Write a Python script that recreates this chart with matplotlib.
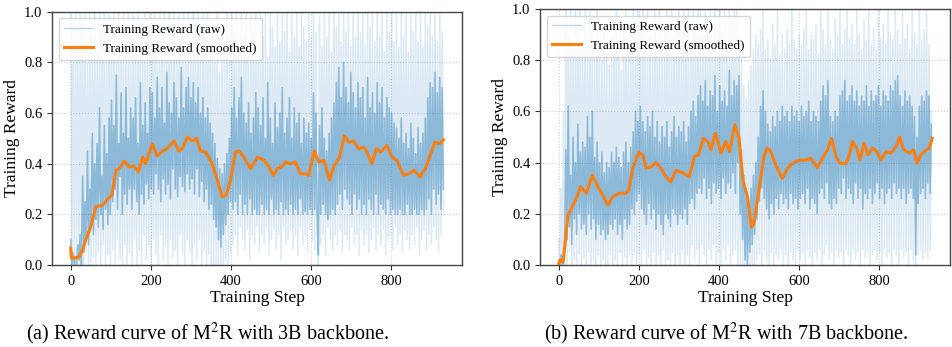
import numpy as np
import matplotlib
matplotlib.use("Agg")
import matplotlib.pyplot as plt

plt.rcParams['font.family'] = ['Liberation Serif', 'DejaVu Serif']
plt.rcParams['mathtext.fontset'] = 'stix'

STEP_STRIDE = 3

# ---------------- Panel (a): 3B backbone ----------------
raw_a = [
    0.10, 0.00, 0.05, 0.00, 0.03, 0.00, 0.08, 0.02, 0.12, 0.00,
    0.35, 0.05, 0.25, 0.10, 0.45, 0.08, 0.30, 0.15, 0.52, 0.12, 0.40,
    0.18, 0.48, 0.15, 0.62, 0.20, 0.35, 0.14, 0.55, 0.22, 0.44, 0.16, 0.58, 0.20,
    0.65, 0.25, 0.55, 0.30, 0.75, 0.22, 0.48, 0.35, 0.68, 0.20, 0.52, 0.28, 0.70, 0.24, 0.50, 0.30, 0.62,
    0.22, 0.58, 0.30, 0.66, 0.25, 0.48, 0.20, 0.72, 0.28, 0.55, 0.24, 0.64, 0.32, 0.52, 0.26, 0.70,
    0.30, 0.68, 0.28, 0.58, 0.36, 0.74, 0.30, 0.62, 0.25, 0.70, 0.34, 0.56, 0.28, 0.76, 0.32, 0.64, 0.26,
    0.60, 0.38, 0.72, 0.30, 0.66, 0.27, 0.58, 0.35, 0.78, 0.31, 0.62, 0.29, 0.70, 0.36, 0.74, 0.30, 0.66,
    0.34, 0.72, 0.28, 0.64, 0.38, 0.70, 0.27, 0.60, 0.33, 0.66, 0.25, 0.58, 0.30, 0.62, 0.22, 0.56,
    0.24, 0.52, 0.18, 0.48, 0.15, 0.42, 0.10, 0.38, 0.07, 0.36, 0.12, 0.40, 0.16, 0.44, 0.20, 0.50, 0.25,
    0.62, 0.22, 0.70, 0.25, 0.58, 0.20, 0.66, 0.28, 0.74, 0.20, 0.60, 0.24, 0.56, 0.20, 0.64, 0.26, 0.52,
    0.20, 0.58, 0.22, 0.68, 0.20,
    0.62, 0.20, 0.55, 0.24, 0.66, 0.20, 0.50, 0.22, 0.72, 0.20, 0.58, 0.26, 0.48, 0.20, 0.64, 0.22, 0.54,
    0.20, 0.60, 0.25, 0.70, 0.20, 0.52, 0.22, 0.58, 0.20, 0.66, 0.24, 0.50, 0.20, 0.62, 0.22, 0.56, 0.20,
    0.60, 0.26, 0.48, 0.20, 0.58, 0.21, 0.52, 0.20, 0.56, 0.22, 0.50,
    0.20, 0.68, 0.22, 0.60, 0.20, 0.04, 0.55, 0.20, 0.62, 0.24, 0.50, 0.20, 0.45, 0.18, 0.52, 0.20, 0.58,
    0.22, 0.64, 0.20,
    0.72, 0.24, 0.78, 0.28, 0.66, 0.22, 0.80, 0.30, 0.70, 0.26, 0.64, 0.24, 0.76, 0.20, 0.68, 0.28, 0.62,
    0.22, 0.72, 0.26,
    0.66, 0.20, 0.70, 0.24, 0.58, 0.20, 0.74, 0.26, 0.62, 0.22, 0.68, 0.20, 0.60, 0.28, 0.72, 0.20, 0.64,
    0.24, 0.70, 0.22, 0.58, 0.20, 0.66, 0.26, 0.62, 0.20, 0.60, 0.22, 0.56, 0.20,
    0.54, 0.20, 0.50, 0.22, 0.58, 0.20, 0.48, 0.20, 0.52, 0.24, 0.46, 0.20, 0.56, 0.20, 0.50, 0.22, 0.44,
    0.20, 0.54, 0.20, 0.48, 0.22, 0.52, 0.20, 0.58,
    0.22, 0.66, 0.26, 0.72, 0.20, 0.70, 0.30, 0.76, 0.24, 0.68, 0.28, 0.74, 0.22, 0.70, 0.30,
]

spread_a = [
    1.00, 0.00, 0.85, 0.00, 1.00, 0.02, 0.90, 0.00, 1.00, 0.00,
    0.95, 0.00, 1.00, 0.05, 0.80, 0.00, 1.00, 0.00, 0.90, 0.03, 1.00,
    0.00, 0.85, 0.05, 1.00, 0.00, 0.92, 0.08, 1.00, 0.00, 0.88, 0.04, 1.00, 0.00,
    0.95, 0.06, 1.00, 0.00, 0.82, 0.10, 1.00, 0.02, 0.90, 0.00, 1.00, 0.08, 0.86, 0.00, 1.00, 0.05, 0.92,
    0.00, 1.00, 0.10, 0.88, 0.00, 1.00, 0.06, 0.94, 0.00, 0.84, 0.12, 1.00, 0.02, 0.90, 0.08, 1.00,
    0.00, 0.96, 0.10, 1.00, 0.04, 0.86, 0.00, 1.00, 0.12, 0.92, 0.02, 1.00, 0.08, 0.88, 0.00, 1.00, 0.10,
    0.94, 0.03, 1.00, 0.06, 0.90, 0.00, 1.00, 0.12, 0.86, 0.04, 1.00, 0.00, 0.92, 0.10, 1.00, 0.05, 0.88,
    0.00, 1.00, 0.08, 0.94, 0.02, 1.00, 0.10, 0.86, 0.00, 1.00, 0.06, 0.90, 0.00, 1.00, 0.04, 0.84,
    0.00, 0.96, 0.00, 0.80, 0.00, 1.00, 0.00, 0.76, 0.00, 0.90, 0.00, 0.82, 0.02, 1.00, 0.00, 0.88, 0.05,
    1.00, 0.08, 0.92, 0.12, 1.00, 0.04, 0.86, 0.15, 1.00, 0.10, 0.90, 0.06, 1.00, 0.14, 0.84, 0.02, 1.00,
    0.12, 0.94, 0.08, 1.00, 0.15,
    0.88, 0.05, 1.00, 0.12, 0.90, 0.08, 1.00, 0.15, 0.82, 0.04, 1.00, 0.10, 0.94, 0.14, 0.86, 0.06, 1.00,
    0.12, 0.88, 0.02, 1.00, 0.15, 0.92, 0.08, 1.00, 0.10, 0.84, 0.14, 1.00, 0.06, 0.90, 0.12, 1.00, 0.04,
    0.86, 0.15, 1.00, 0.08, 0.94, 0.12, 0.88, 0.05, 1.00, 0.14, 0.90,
    0.10, 1.00, 0.06, 0.92, 0.14, 0.00, 1.00, 0.08, 0.86, 0.12, 1.00, 0.04, 0.90, 0.15, 1.00, 0.10, 0.84,
    0.06, 1.00, 0.12,
    0.94, 0.08, 1.00, 0.14, 0.88, 0.05, 1.00, 0.12, 0.92, 0.10, 1.00, 0.06, 0.86, 0.15, 1.00, 0.08, 0.90,
    0.12, 1.00, 0.04,
    0.92, 0.14, 1.00, 0.08, 0.86, 0.12, 1.00, 0.05, 0.94, 0.10, 1.00, 0.15, 0.88, 0.06, 1.00, 0.12, 0.90,
    0.08, 1.00, 0.14, 0.84, 0.04, 1.00, 0.10, 0.92, 0.12, 1.00, 0.06, 0.88, 0.15,
    1.00, 0.08, 0.86, 0.12, 1.00, 0.05, 0.90, 0.14, 1.00, 0.10, 0.84, 0.06, 1.00, 0.12, 0.92, 0.08, 1.00,
    0.15, 0.88, 0.04, 1.00, 0.10, 0.86, 0.14, 1.00,
    0.06, 0.94, 0.12, 1.00, 0.08, 0.90, 0.15, 1.00, 0.10, 0.88, 0.05, 1.00, 0.12, 0.92, 0.20,
]

smooth_steps_a = [0, 2, 20, 30, 38, 50, 63, 80, 92, 103, 113, 121, 134, 146, 158, 169, 180, 187,
                  204, 216, 229, 241, 258, 270, 279, 291, 304, 314, 324, 337, 353, 366, 378, 388,
                  399, 411, 420, 432, 449, 466, 483, 495, 506, 516, 528, 536, 549, 561, 573, 586,
                  594, 608, 619, 632, 646, 656, 671, 683, 694, 706, 719, 731, 739, 752, 763, 774,
                  789, 802, 814, 831, 843, 856, 872, 885, 897, 909, 920, 930]
smooth_vals_a = [0.067, 0.027, 0.03, 0.06, 0.10, 0.15, 0.23, 0.236, 0.26, 0.275, 0.374, 0.38,
                 0.41, 0.387, 0.39, 0.367, 0.426, 0.40, 0.478, 0.43, 0.45, 0.459, 0.49, 0.45,
                 0.46, 0.505, 0.49, 0.50, 0.45, 0.446, 0.40, 0.335, 0.27, 0.276, 0.335, 0.446,
                 0.45, 0.426, 0.38, 0.426, 0.413, 0.387, 0.354, 0.38, 0.39, 0.407, 0.40, 0.407,
                 0.36, 0.36, 0.354, 0.45, 0.407, 0.413, 0.335, 0.387, 0.426, 0.51, 0.485, 0.49,
                 0.459, 0.465, 0.446, 0.40, 0.459, 0.446, 0.472, 0.426, 0.413, 0.354, 0.36,
                 0.374, 0.348, 0.38, 0.433, 0.485, 0.478, 0.494]

# ---------------- Panel (b): 7B backbone ----------------
raw_b = [
    0.02, 0.00, 0.04, 0.00, 0.03, 0.08,
    0.45, 0.10, 0.62, 0.15, 0.35, 0.08, 0.50, 0.18, 0.40, 0.12, 0.55, 0.20, 0.44, 0.14, 0.48,
    0.16, 0.46, 0.12, 0.58, 0.20, 0.50, 0.14, 0.60, 0.18, 0.42, 0.10, 0.48, 0.16, 0.40, 0.12, 0.44,
    0.14, 0.36, 0.10, 0.40,
    0.12, 0.38, 0.16, 0.44, 0.14, 0.40, 0.18, 0.46, 0.12, 0.42, 0.16, 0.38, 0.10, 0.44, 0.18, 0.48,
    0.14, 0.40, 0.16, 0.46, 0.22, 0.52, 0.20, 0.60, 0.25, 0.56,
    0.28, 0.62, 0.22, 0.56, 0.20, 0.52, 0.16, 0.58, 0.24, 0.54, 0.18, 0.60, 0.22, 0.50, 0.14, 0.56,
    0.20, 0.48, 0.16, 0.54, 0.12, 0.50, 0.20, 0.56, 0.18, 0.46, 0.15, 0.52, 0.22, 0.58, 0.20, 0.50,
    0.16, 0.54,
    0.20, 0.52, 0.18, 0.56, 0.22, 0.48, 0.16, 0.54, 0.24, 0.60, 0.26, 0.64, 0.22, 0.58, 0.28, 0.66,
    0.30, 0.70, 0.28, 0.64, 0.34, 0.72, 0.26, 0.62, 0.30, 0.68, 0.24, 0.66, 0.32, 0.74, 0.28, 0.60,
    0.30, 0.70, 0.26, 0.64, 0.34, 0.68, 0.28, 0.62, 0.32, 0.76, 0.30, 0.66, 0.36, 0.72, 0.28, 0.70,
    0.40, 0.74,
    0.20, 0.45, 0.10, 0.35, 0.02, 0.30, 0.00, 0.25, 0.05, 0.30, 0.08, 0.35, 0.12, 0.40, 0.18, 0.50,
    0.25, 0.62, 0.30, 0.68, 0.26, 0.60, 0.22, 0.55, 0.18, 0.52, 0.24, 0.58, 0.20, 0.54, 0.26, 0.60,
    0.22, 0.56, 0.28, 0.62, 0.24, 0.58, 0.26, 0.60, 0.22, 0.56, 0.28, 0.62, 0.24, 0.58, 0.26, 0.60,
    0.22, 0.56,
    0.26, 0.62, 0.28, 0.58, 0.24, 0.60, 0.30, 0.64, 0.22, 0.56, 0.26, 0.60, 0.24, 0.58, 0.20, 0.56,
    0.28, 0.64, 0.30, 0.70, 0.26, 0.66, 0.32, 0.72, 0.24, 0.58, 0.22, 0.56, 0.26, 0.60, 0.24, 0.58,
    0.30, 0.66, 0.28, 0.68, 0.34, 0.72, 0.26, 0.64,
    0.30, 0.66, 0.28, 0.70, 0.24, 0.64, 0.32, 0.68, 0.26, 0.62, 0.30, 0.66, 0.22, 0.64, 0.28, 0.70,
    0.26, 0.62, 0.30, 0.68, 0.24, 0.64, 0.28, 0.66, 0.32, 0.70, 0.26, 0.62, 0.30, 0.68, 0.24, 0.66,
    0.28, 0.64, 0.30, 0.70, 0.26, 0.68, 0.32, 0.72,
    0.28, 0.74, 0.30, 0.66, 0.26, 0.62, 0.30, 0.68, 0.24, 0.64, 0.28, 0.66, 0.30, 0.62, 0.26, 0.58,
    0.04, 0.50, 0.24, 0.62, 0.28, 0.66, 0.30, 0.64, 0.26, 0.68, 0.32, 0.66, 0.28, 0.55,
]

spread_b = [
    0.10, 0.00, 0.30, 0.00, 0.60, 0.00,
    1.00, 0.00, 0.90, 0.05, 1.00, 0.00, 0.85, 0.02, 1.00, 0.00, 0.92, 0.04, 1.00, 0.00, 0.88,
    0.03, 1.00, 0.00, 0.86, 0.05, 1.00, 0.00, 0.94, 0.02, 0.82, 0.00, 1.00, 0.04, 0.88, 0.00, 0.80,
    0.02, 0.92, 0.00, 0.84,
    0.00, 0.78, 0.04, 0.90, 0.00, 0.82, 0.02, 1.00, 0.00, 0.86, 0.05, 0.76, 0.00, 0.92, 0.03, 1.00,
    0.00, 0.84, 0.04, 0.94, 0.00, 1.00, 0.05, 0.88, 0.00, 1.00,
    0.04, 0.92, 0.00, 1.00, 0.06, 0.86, 0.00, 1.00, 0.03, 0.90, 0.00, 0.84, 0.05, 1.00, 0.00, 0.88,
    0.04, 1.00, 0.00, 0.82, 0.06, 0.94, 0.00, 1.00, 0.02, 0.86, 0.00, 1.00, 0.05, 0.90, 0.00, 0.96,
    0.04, 1.00,
    0.00, 0.88, 0.06, 1.00, 0.00, 0.92, 0.04, 1.00, 0.00, 0.86, 0.08, 1.00, 0.02, 0.94, 0.06, 1.00,
    0.00, 1.00, 0.08, 0.90, 0.04, 1.00, 0.00, 0.96, 0.06, 1.00, 0.02, 0.88, 0.08, 1.00, 0.00, 0.94,
    0.05, 1.00, 0.00, 0.92, 0.06, 1.00, 0.02, 0.86, 0.08, 1.00, 0.00, 0.96, 0.04, 1.00, 0.06, 1.00,
    0.00, 0.90,
    0.00, 0.80, 0.00, 0.70, 0.00, 0.65, 0.00, 0.72, 0.00, 0.78, 0.00, 0.84, 0.00, 0.90, 0.02, 0.86,
    0.04, 0.92, 0.00, 1.00, 0.06, 0.84, 0.02, 0.88, 0.00, 0.80, 0.05, 0.94, 0.00, 0.86, 0.04, 1.00,
    0.02, 0.82, 0.06, 0.90, 0.00, 0.84, 0.04, 0.92, 0.00, 0.86, 0.05, 1.00, 0.02, 0.88, 0.00, 0.84,
    0.06, 0.90,
    0.02, 0.86, 0.05, 0.92, 0.00, 1.00, 0.06, 0.84, 0.03, 0.90, 0.00, 0.88, 0.05, 0.94, 0.02, 0.82,
    0.06, 1.00, 0.00, 0.92, 0.04, 0.86, 0.08, 1.00, 0.02, 0.88, 0.05, 0.84, 0.00, 0.96, 0.06, 0.90,
    0.03, 1.00, 0.05, 0.86, 0.00, 0.92, 0.06, 1.00,
    0.04, 0.88, 0.00, 0.94, 0.06, 0.86, 0.02, 1.00, 0.05, 0.90, 0.00, 0.84, 0.06, 0.96, 0.03, 0.88,
    0.05, 1.00, 0.00, 0.86, 0.04, 0.92, 0.06, 0.84, 0.02, 1.00, 0.05, 0.88, 0.00, 0.94, 0.06, 0.86,
    0.03, 1.00, 0.05, 0.90, 0.00, 0.88, 0.06, 1.00,
    0.04, 0.92, 0.00, 0.86, 0.06, 1.00, 0.03, 0.88, 0.05, 0.94, 0.00, 0.84, 0.06, 1.00, 0.02, 0.90,
    0.00, 0.86, 0.04, 1.00, 0.06, 0.88, 0.02, 0.92, 0.05, 1.00, 0.03, 0.86, 0.06, 0.60,
]

smooth_steps_b = [0, 4, 11, 17, 23, 36, 44, 55, 69, 84, 98, 110, 123, 135, 152, 167, 175, 185,
                  200, 210, 218, 231, 243, 255, 268, 280, 293, 310, 326, 339, 349, 361, 372, 380,
                  391, 405, 417, 426, 440, 450, 460, 471, 481, 487, 500, 512, 521, 529, 542, 558,
                  571, 583, 600, 617, 629, 646, 658, 671, 681, 692, 702, 717, 725, 733, 744, 752,
                  762, 772, 783, 794, 804, 817, 829, 842, 851, 861, 875, 886, 894, 904, 917, 925, 932]
smooth_vals_b = [0.005, 0.02, 0.01, 0.097, 0.195, 0.234, 0.26, 0.306, 0.28, 0.35, 0.306, 0.273,
                 0.234, 0.267, 0.28, 0.28, 0.293, 0.378, 0.44, 0.43, 0.378, 0.384, 0.40, 0.378,
                 0.345, 0.325, 0.37, 0.36, 0.345, 0.424, 0.43, 0.495, 0.482, 0.45, 0.515, 0.437,
                 0.482, 0.443, 0.548, 0.495, 0.33, 0.266, 0.148, 0.161, 0.293, 0.424, 0.457,
                 0.443, 0.39, 0.338, 0.377, 0.397, 0.41, 0.41, 0.417, 0.38, 0.417, 0.45, 0.495,
                 0.424, 0.397, 0.397, 0.43, 0.482, 0.456, 0.41, 0.476, 0.43, 0.456, 0.443, 0.41,
                 0.443, 0.437, 0.463, 0.50, 0.45, 0.437, 0.45, 0.397, 0.43, 0.45, 0.456, 0.495]

yticks = [0.0, 0.2, 0.4, 0.6, 0.8, 1.0]
xticks = [0, 200, 400, 600, 800]
captions = ["(a) Reward curve of M$^2$R with 3B backbone.",
            "(b) Reward curve of M$^2$R with 7B backbone."]

BLUE = '#1f77b4'
ORANGE = '#ff7f0e'

fig = plt.figure(figsize=(9.52, 3.47), dpi=100)
ax_a = fig.add_axes([52 / 952, 82 / 347, 410 / 952, 253.3 / 347])
ax_b = fig.add_axes([540 / 952, 82 / 347, 410 / 952, 256 / 347])

panels = [(ax_a, raw_a, spread_a, smooth_steps_a, smooth_vals_a),
          (ax_b, raw_b, spread_b, smooth_steps_b, smooth_vals_b)]

for ax, raw, spread, s_steps, s_vals in panels:
    steps_raw = np.arange(len(raw)) * STEP_STRIDE
    steps_spread = np.arange(len(spread)) * STEP_STRIDE
    ax.plot(steps_spread, spread, color=BLUE, alpha=0.15, lw=1.2, zorder=1)
    ax.plot(steps_raw, raw, color=BLUE, alpha=0.42, lw=1.2, zorder=2,
            label='Training Reward (raw)')
    ax.plot(s_steps, s_vals, color=ORANGE, lw=2.2, zorder=3,
            label='Training Reward (smoothed)')
    ax.set_ylim(0, 1.0)
    ax.set_xlim(-46.5, 976.5)
    ax.set_yticks(yticks)
    ax.set_xticks(xticks)
    ax.grid(True, linestyle=':', color='#b0b0b0', alpha=0.6, lw=0.8)
    ax.set_axisbelow(True)
    ax.tick_params(labelsize=10.5, length=3.5, width=0.8, color='#333333')
    for sp in ax.spines.values():
        sp.set_color('#444444')
        sp.set_linewidth(1.0)
    ax.set_xlabel('Training Step', fontsize=12.5, labelpad=2)
    ax.set_ylabel('Training Reward', fontsize=12.5, labelpad=3)
    leg = ax.legend(loc='upper left', fontsize=9.5, framealpha=0.8,
                    edgecolor='#cccccc', handlelength=2.2)
    leg.get_lines()[0].set_alpha(0.3)
    leg.get_lines()[0].set_linewidth(1.0)

fig.text(208 / 952, 13 / 347, captions[0], ha='center', va='center', fontsize=14.5)
fig.text(726 / 952, 13 / 347, captions[1], ha='center', va='center', fontsize=14.5)

fig.savefig('out.png', dpi=100)
